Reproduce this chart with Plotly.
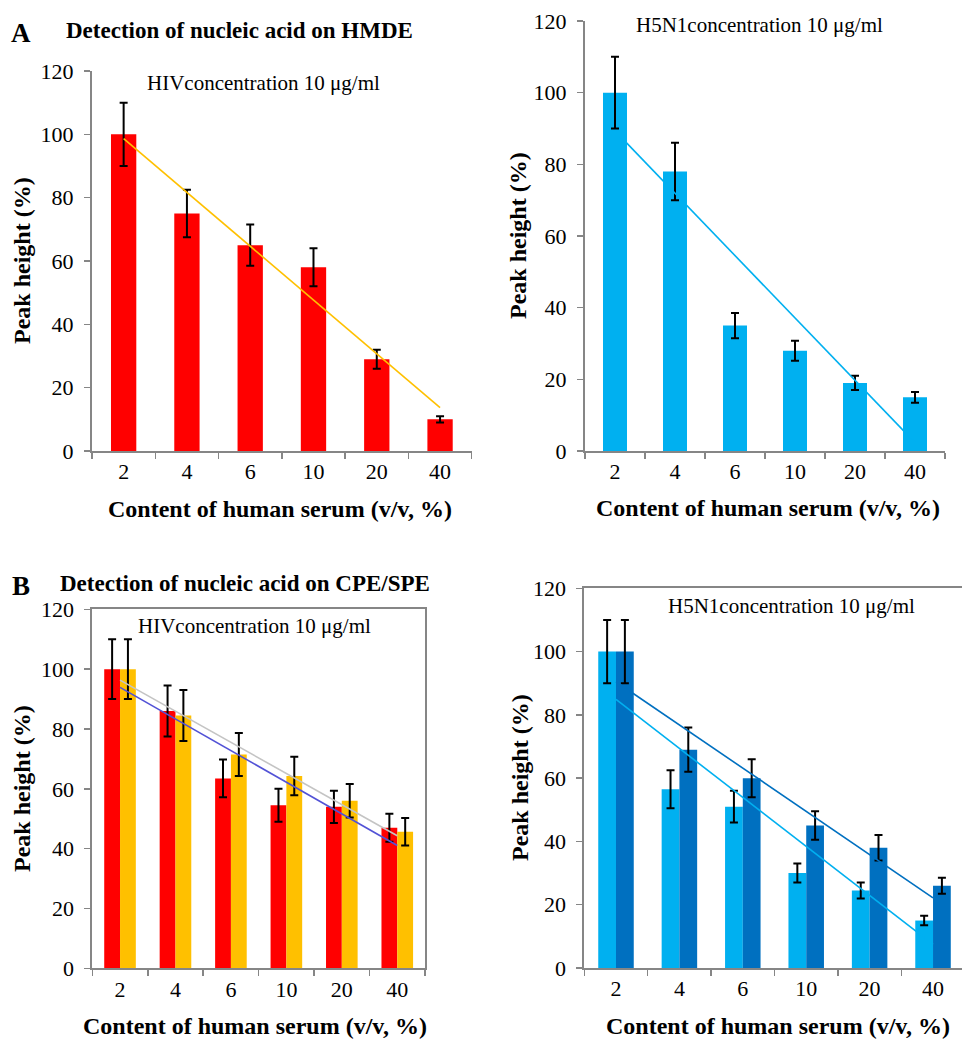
import numpy as np
import plotly.graph_objects as go

W, H = 962, 1039

categories = ["2", "4", "6", "10", "20", "40"]

# Panel A (HMDE)
hiv_hmde = [100, 75, 65, 58, 29, 10]
hiv_hmde_err = [10, 7.5, 6.5, 6, 3, 1]
h5n1_hmde = [100, 78, 35, 28, 19, 15]
h5n1_hmde_err = [10, 8, 3.5, 2.8, 2, 1.5]

# Panel B (CPE/SPE)
hiv_cpe = [100, 86, 63.5, 54.5, 54, 47]
hiv_cpe_err = [10, 8.5, 6.3, 5.5, 5.4, 4.7]
hiv_spe = [100, 84.5, 71.5, 64.3, 56, 45.7]
hiv_spe_err = [10, 8.5, 7.2, 6.4, 5.6, 4.6]
h5n1_cpe = [100, 56.5, 51, 30, 24.5, 15]
h5n1_cpe_err = [10, 6, 5, 3, 2.5, 1.5]
h5n1_spe = [100, 69, 60, 45, 38, 26]
h5n1_spe_err = [10, 7, 6, 4.5, 4, 2.5]

RED = "#FF0000"
YEL = "#FFC000"
LBLUE = "#00B0F0"
DBLUE = "#0070C0"
AXC = "#868686"
FONT = "Liberation Serif"


def trend(vals):
    idx = np.arange(len(vals))
    k, b = np.polyfit(idx, vals, 1)
    return list(k * idx + b)


def px_x(p):
    return p / W


def px_y(p):
    return 1 - p / H


fig = go.Figure()

err_style = dict(type="data", color="black", thickness=2, width=4, visible=True)


def add_bar(vals, errs, color, xa, ya, width, offset):
    fig.add_trace(go.Bar(
        x=categories, y=vals, marker=dict(color=color, line=dict(width=0)),
        width=width, offset=offset,
        error_y=dict(array=errs, **err_style),
        xaxis=xa, yaxis=ya, showlegend=False, hoverinfo="skip"))


def add_line(vals, color, xa, ya):
    fig.add_trace(go.Scatter(
        x=categories, y=trend(vals), mode="lines",
        line=dict(color=color, width=1.6),
        xaxis=xa, yaxis=ya, showlegend=False, hoverinfo="skip"))


# A left
add_bar(hiv_hmde, hiv_hmde_err, RED, "x", "y", 0.4, -0.2)
add_line(hiv_hmde, YEL, "x", "y")
# A right
add_bar(h5n1_hmde, h5n1_hmde_err, LBLUE, "x2", "y2", 0.4, -0.2)
add_line(h5n1_hmde, LBLUE, "x2", "y2")
# B left
add_bar(hiv_cpe, hiv_cpe_err, RED, "x3", "y3", 0.285, -0.285)
add_bar(hiv_spe, hiv_spe_err, YEL, "x3", "y3", 0.285, 0)
add_line(hiv_cpe, "#5252D6", "x3", "y3")
add_line(hiv_spe, "#C4C4C4", "x3", "y3")
# B right
add_bar(h5n1_cpe, h5n1_cpe_err, LBLUE, "x4", "y4", 0.28, -0.28)
add_bar(h5n1_spe, h5n1_spe_err, DBLUE, "x4", "y4", 0.28, 0)
add_line(h5n1_cpe, LBLUE, "x4", "y4")
add_line(h5n1_spe, DBLUE, "x4", "y4")

tickfont = dict(family=FONT, size=22, color="black")


def xax(domain, anchor, mirror, rng=None):
    d = dict(domain=domain, anchor=anchor, type="category", showline=True,
             linecolor=AXC, linewidth=2, ticks="outside", ticklen=6, tickwidth=1.5,
             tickcolor=AXC, tickson="boundaries", tickfont=tickfont,
             showgrid=False, zeroline=False, mirror=mirror, automargin=False,
             ticklabelstandoff=0, fixedrange=True)
    d["range"] = rng if rng else [-0.5, 5.5]
    return d


def yax(domain, anchor, mirror):
    return dict(domain=domain, anchor=anchor, range=[0, 120], dtick=20,
                showline=True, linecolor=AXC, linewidth=2, ticks="outside",
                ticklen=6, tickwidth=1.5, tickcolor=AXC, tickfont=tickfont,
                showgrid=False, zeroline=False, mirror=mirror, automargin=False,
                ticklabelstandoff=6, fixedrange=True)


fig.update_layout(
    template="none",
    width=W, height=H, margin=dict(l=0, r=0, t=0, b=0, pad=0),
    paper_bgcolor="white", plot_bgcolor="white", barmode="overlay",
    xaxis=xax([px_x(92), px_x(471.7)], "y", False),
    yaxis=yax([px_y(451), px_y(71)], "x", False),
    xaxis2=xax([px_x(585), px_x(945)], "y2", False),
    yaxis2=yax([px_y(451), px_y(21)], "x2", False),
    xaxis3=xax([px_x(92.3), px_x(425)], "y3", True),
    yaxis3=yax([px_y(968.4), px_y(609.3)], "x3", True),
    xaxis4=xax([px_x(584.3), 1.0], "y4", True, [-0.5, 5.457]),
    yaxis4=yax([px_y(968), px_y(588.3)], "x4", False),
)

ann = []


def text(t, x, y, size, bold=False, angle=0, xanchor="center"):
    ann.append(dict(text=f"<b>{t}</b>" if bold else t, x=px_x(x), y=px_y(y),
                    xref="paper", yref="paper", showarrow=False,
                    xanchor=xanchor, yanchor="middle", textangle=angle,
                    font=dict(family=FONT, size=size, color="black")))


text("A", 21, 33, 27, bold=True)
text("Detection of nucleic acid on HMDE", 239, 30, 23, bold=True)
text("B", 21, 586, 27, bold=True)
text("Detection of nucleic acid on CPE/SPE", 245, 583, 23, bold=True)

text("HIVconcentration 10 μg/ml", 263.5, 83, 21)
text("H5N1concentration 10 μg/ml", 759.5, 25, 21)
text("HIVconcentration 10 μg/ml", 254.5, 626, 21)
text("H5N1concentration 10 μg/ml", 791, 606, 21)

xt = "Content of human serum (v/v, %)"
text(xt, 280, 509, 24, bold=True)
text(xt, 768, 508, 24, bold=True)
text(xt, 255, 1026, 24, bold=True)
text(xt, 778, 1026, 24, bold=True)

yt = "Peak height (%)"
text(yt, 22, 261, 24, bold=True, angle=-90)
text(yt, 518, 236, 24, bold=True, angle=-90)
text(yt, 22, 789, 24, bold=True, angle=-90)
text(yt, 520, 778, 24, bold=True, angle=-90)

fig.update_layout(annotations=ann)

fig.write_html("out.html", config={"displayModeBar": False, "staticPlot": True},
               post_script="document.body.style.margin='0px';document.body.style.overflow='hidden';")
